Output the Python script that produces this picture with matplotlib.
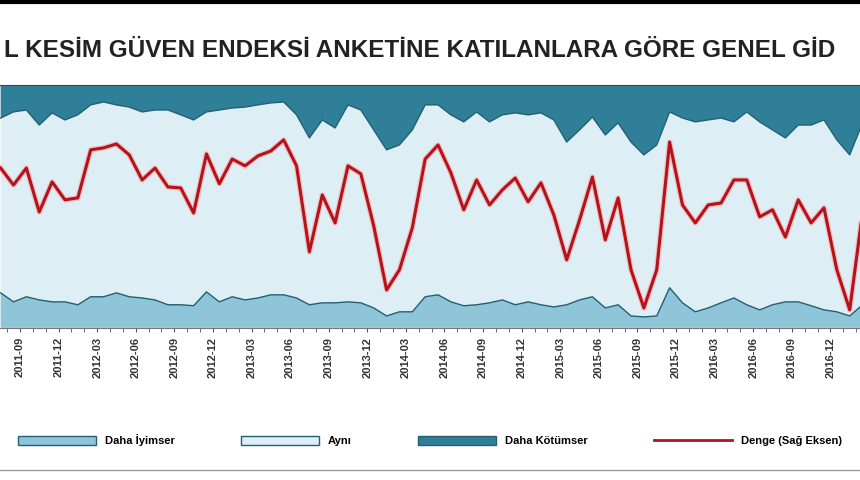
import matplotlib.pyplot as plt
from matplotlib.patches import Patch
from matplotlib.lines import Line2D

# monthly shares (%), first value is mid 2011-08
iyimser = [14.4, 10.7, 12.8, 11.5, 10.7, 10.7, 9.5, 12.8, 12.8, 14.4, 12.8, 12.3, 11.5, 9.5, 9.5, 9.1, 14.8,
           10.7, 12.8, 11.5, 12.3, 13.6, 13.6, 12.3, 9.5, 10.3, 10.3, 10.7, 10.3, 8.2, 4.9, 6.6, 6.6, 12.8,
           13.6, 10.7, 9.1, 9.5, 10.3, 11.5, 9.5, 10.7, 9.5, 8.6, 9.5, 11.5, 12.8, 8.2, 9.5, 4.9, 4.5, 4.9,
           16.5, 10.3, 6.6, 8.2, 10.3, 12.3, 9.5, 7.4, 9.5, 10.7, 10.7, 9.1, 7.4, 6.6, 4.9, 9.5]
kotumser = [13.6, 11.1, 10.3, 16.5, 11.5, 14.4, 12.3, 8.2, 7.0, 8.2, 9.1, 11.1, 10.3, 10.3, 12.3, 14.4, 11.1,
            10.3, 9.5, 9.1, 8.2, 7.4, 7.0, 12.3, 21.8, 14.4, 17.7, 8.2, 10.3, 18.5, 26.7, 24.7, 18.5, 8.2,
            8.2, 12.3, 15.2, 11.1, 15.2, 12.3, 11.5, 12.3, 11.5, 14.4, 23.5, 18.5, 13.2, 20.6, 15.6, 23.5,
            28.8, 24.7, 11.1, 13.6, 15.2, 14.4, 13.6, 15.2, 11.1, 15.2, 18.5, 21.8, 16.5, 16.5, 14.4, 22.6,
            28.8, 15.6]
denge = [65.8, 58.8, 65.8, 47.7, 60.1, 52.7, 53.5, 73.3, 74.1, 75.7, 71.2, 60.9, 65.8, 58.0, 57.6, 47.3, 71.6,
         59.3, 69.5, 66.7, 70.8, 72.8, 77.4, 66.7, 31.3, 54.7, 43.2, 66.7, 63.4, 42.0, 15.6, 23.9, 41.2, 69.5,
         75.3, 63.8, 48.6, 60.9, 50.6, 56.8, 61.7, 51.9, 59.7, 46.5, 28.0, 44.4, 62.1, 36.2, 53.5, 23.9, 8.2,
         23.9, 76.5, 50.6, 43.2, 50.6, 51.4, 60.9, 60.9, 45.7, 48.6, 37.4, 52.7, 43.2, 49.4, 23.9, 7.4, 47.7]
aynı = [100 - a - b for a, b in zip(iyimser, kotumser)]
tick_labels = ['2011-09', '2011-12', '2012-03', '2012-06', '2012-09', '2012-12', '2013-03', '2013-06',
               '2013-09', '2013-12', '2014-03', '2014-06', '2014-09', '2014-12', '2015-03', '2015-06',
               '2015-09', '2015-12', '2016-03', '2016-06', '2016-09', '2016-12']

x = [i - 1.5 for i in range(len(iyimser))]

c_iyi, c_ayni, c_kot, c_red, c_edge = '#8ec5d9', '#deeef5', '#2f7f99', '#b5121b', '#245f73'

fig = plt.figure(figsize=(8.6, 4.8), dpi=100)
plt.rcParams['font.family'] = ['Liberation Sans', 'DejaVu Sans']
ax = fig.add_axes([0, 0.317, 1, 0.506])
ax.stackplot(x, iyimser, aynı, kotumser, colors=[c_iyi, c_ayni, c_kot])
lo = iyimser
hi = [a + b for a, b in zip(iyimser, aynı)]
ax.plot(x, lo, color=c_edge, lw=1)
ax.plot(x, hi, color=c_edge, lw=1)
ax.set_xlim(-1.55, 65.3)
ax.set_ylim(0, 100)
ax.set_yticks([])
ax.set_xticks(range(0, 3 * len(tick_labels), 3))
ax.set_xticklabels(tick_labels, rotation=90, fontsize=8, fontweight='bold', color='#333333')
ax.set_xticks(range(-1, 66), minor=True)
ax.tick_params(axis='x', which='both', length=3, color='#555555')
for s in ['left', 'right']:
    ax.spines[s].set_visible(False)
ax.spines['top'].set_color('#444444')
ax.spines['bottom'].set_color('#777777')

ax2 = ax.twinx()
ax2.plot(x, denge, color='#ff9a9a', lw=4, alpha=0.5)
ax2.plot(x, denge, color=c_red, lw=2.2)
ax2.set_ylim(0, 100)
ax2.set_yticks([])
for s in ax2.spines.values():
    s.set_visible(False)

fig.text(0.005, 0.895, 'L KESİM GÜVEN ENDEKSİ ANKETİNE KATILANLARA GÖRE GENEL GİD',
         fontsize=17.5, fontweight='bold', color='#222222', ha='left', va='center')
fig.add_artist(Line2D([0, 1], [0.995, 0.995], color='black', lw=3))
fig.add_artist(Line2D([0, 1], [0.02, 0.02], color='#999999', lw=1))

handles = [Patch(facecolor=c_iyi, edgecolor=c_edge), Patch(facecolor=c_ayni, edgecolor=c_edge),
           Patch(facecolor=c_kot, edgecolor=c_edge), Line2D([], [], color=c_red, lw=2)]
fig.legend(handles, ['Daha İyimser', 'Aynı', 'Daha Kötümser', 'Denge (Sağ Eksen)'],
           loc='center', bbox_to_anchor=(0.5, 0.083), ncol=4, frameon=False,
           prop={'size': 8, 'weight': 'bold'}, handlelength=7, handleheight=0.8, columnspacing=6)
fig.savefig('out.png', dpi=100)
